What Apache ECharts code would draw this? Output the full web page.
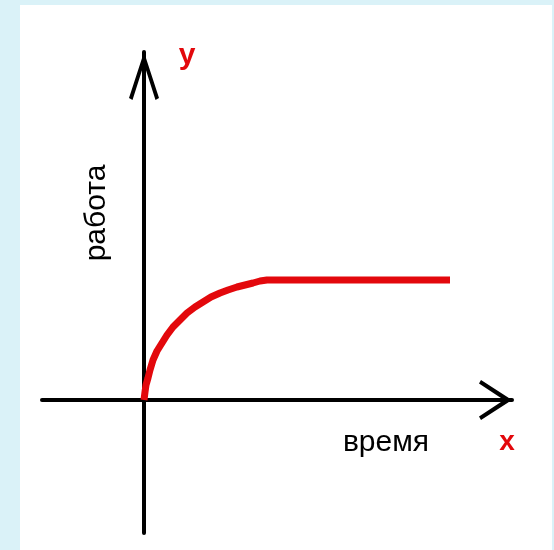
<!DOCTYPE html>
<html>
<head>
<meta charset="utf-8">
<script src="https://cdn.jsdelivr.net/npm/echarts@6/dist/echarts.min.js"></script>
<style>
    html, body { margin: 0; padding: 0; background: #daf2f8; }
    #wrap { position: relative; width: 554px; height: 550px; }
    #paper { position: absolute; left: 20px; top: 5px; width: 532px; height: 545px; background: #fff; }
    #chart { position: absolute; left: 0; top: 0; width: 554px; height: 550px; }
</style>
</head>
<body>
<div id="wrap">
    <div id="paper"></div>
    <div id="chart"></div>
</div>
<script>
// curve (origin = where the axes cross)
var timeData = [0, 1, 2, 4, 6, 9, 13, 18, 23, 29, 36, 43, 51, 59, 67, 76, 84, 93, 101, 109, 116, 123, 306]
var workData = [0, 8, 15, 22, 30, 40, 49, 57, 65, 73, 80, 87, 93, 98, 103, 107, 110, 113, 115, 117, 119, 120, 120]

// axis extents (the axes also run a bit into the negative side)
var xRange = [-102, 368]
var yRange = [-133, 348]

var font = "'Liberation Sans', Arial, sans-serif"

// open chevron arrow heads, tip up
var arrowY = 'path://M15 0 L30 46 L26.5 48 L15 12 L3.5 48 L0 46 Z'
var arrowX = 'path://M20 0 L40 31 L36.5 33 L20 8 L3.5 33 L0 31 Z'

var chart = echarts.init(document.getElementById('chart'))

var points = []
for (var i = 0; i < timeData.length; i++) {
    points.push([timeData[i], workData[i]])
}

var option = {
    animation: false,
    grid: {
        left: 42,
        right: 42,
        top: 52,
        bottom: 17
    },
    xAxis: {
        type: 'value',
        min: xRange[0],
        max: xRange[1],
        axisLine: {
            onZero: true,
            symbol: ['none', arrowX],
            symbolSize: [40, 33],
            symbolOffset: [0, -16.5],
            lineStyle: { color: '#000', width: 4 }
        },
        axisTick: { show: false },
        axisLabel: { show: false },
        splitLine: { show: false }
    },
    yAxis: {
        type: 'value',
        min: yRange[0],
        max: yRange[1],
        axisLine: {
            show: true,
            onZero: true,
            symbol: ['none', arrowY],
            symbolSize: [30, 48],
            symbolOffset: [0, -24],
            lineStyle: { color: '#000', width: 4 }
        },
        axisTick: { show: false },
        axisLabel: { show: false },
        splitLine: { show: false }
    },
    series: [
        {
            type: 'line',
            data: points,
            smooth: false,
            symbol: 'none',
            lineStyle: { color: '#e3080c', width: 7, cap: 'butt', join: 'round' },
            z: 5
        }
    ],
    graphic: [
        {
            type: 'text',
            x: 187, y: 56,
            style: { text: 'y', fill: '#e3080c', font: 'bold 30px ' + font, align: 'center', verticalAlign: 'middle' }
        },
        {
            type: 'text',
            x: 507, y: 442,
            style: { text: 'x', fill: '#e3080c', font: 'bold 28px ' + font, align: 'center', verticalAlign: 'middle' }
        },
        {
            type: 'text',
            x: 97, y: 213,
            rotation: Math.PI / 2,
            style: { text: 'работа', fill: '#000', font: '30px ' + font, align: 'center', verticalAlign: 'middle' }
        },
        {
            type: 'text',
            x: 386, y: 443,
            style: { text: 'время', fill: '#000', font: '30px ' + font, align: 'center', verticalAlign: 'middle' }
        }
    ]
}
chart.setOption(option)
</script>
</body>
</html>
